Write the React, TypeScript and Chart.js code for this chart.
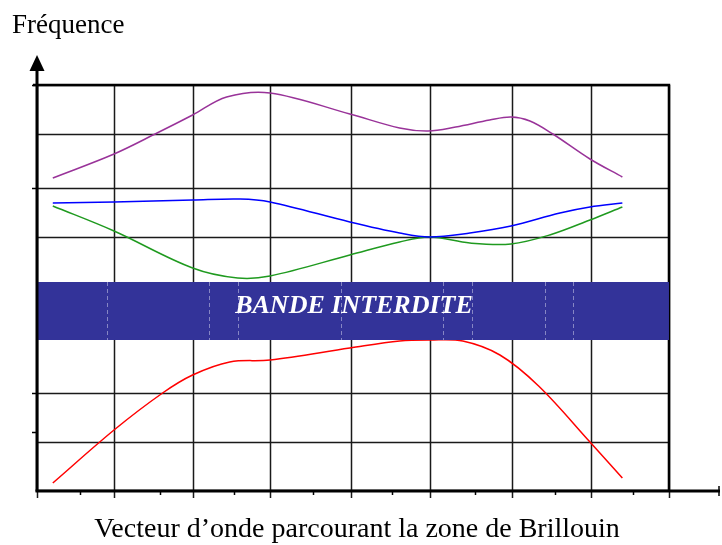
import React, { useEffect, useRef } from "react";
import { Chart, registerables } from "chart.js";

Chart.register(...registerables);

// x: wave vector (grid units), y: frequency (arbitrary units)
const purple = [
  [0.2, 31.2], [0.975, 33.6], [1.52, 35.7], [1.97, 37.5], [2.4, 39.3],
  [2.95, 39.7], [3.96, 37.6], [4.59, 36.2], [4.95, 35.9], [5.3, 36.3], [5.73, 37.0],
  [6.0, 37.3], [6.24, 36.9], [6.53, 35.6], [7.0, 33.1], [7.41, 31.3],
];
const blue = [
  [0.2, 28.7], [0.975, 28.8], [1.97, 29.0], [2.57, 29.1], [2.95, 28.8],
  [3.96, 26.8], [4.59, 25.7], [4.97, 25.3], [5.48, 25.7], [6.0, 26.4], [6.62, 27.7],
  [7.0, 28.3], [7.41, 28.7],
];
const green = [
  [0.2, 28.4], [0.975, 25.9], [1.97, 22.2], [2.54, 21.2], [2.95, 21.4],
  [3.96, 23.5], [4.59, 24.8], [4.97, 25.3], [5.48, 24.7], [6.0, 24.6], [6.49, 25.5],
  [7.0, 27.0], [7.41, 28.3],
];
const red = [
  [0.2, 0.7], [0.975, 6.0], [1.59, 9.7], [1.97, 11.5], [2.44, 12.8],
  [2.95, 13.0], [3.96, 14.2], [4.59, 14.9], [4.97, 15.0], [5.39, 14.9], [5.86, 13.5],
  [6.35, 10.4], [7.0, 4.8], [7.41, 1.2],
];

const xGrid = [0, 0.975, 1.97, 2.95, 3.98, 4.97, 6.01, 7.01, 8.0];
const yGrid = [0, 4.8, 9.7, 25.3, 30.25, 35.6, 40.5];
const yTicks = [40.5, 30.25, 9.7, 5.8];
const xMinorTicks = [0.54, 1.56, 2.5, 3.5, 4.5, 5.54, 6.56, 7.54];
const band = [15.0, 20.8];
const bandDashes = [0.886, 2.18, 2.54, 3.85, 5.14, 5.51, 6.43, 6.78];
const xMax = 8.646;
const yMax = 43.5;

const yLabel = "Fréquence";
const xLabel = "Vecteur d\u2019onde parcourant la zone de Brillouin";
const bandLabel = "BANDE INTERDITE";

const toPts = (a: number[][]) => a.map(([x, y]) => ({ x, y }));

export default function App() {
  const ref = useRef<HTMLCanvasElement>(null);
  useEffect(() => {
    if (!ref.current) return;
    const gridPlugin = {
      id: "grid",
      beforeDatasetsDraw(chart: any) {
        const { ctx, scales } = chart;
        const xs = scales.x, ys = scales.y;
        const gx0 = xs.getPixelForValue(0), gx1 = xs.getPixelForValue(8.0);
        const gy0 = ys.getPixelForValue(0), gyTop = ys.getPixelForValue(40.5);
        ctx.save();
        ctx.strokeStyle = "#1a1a1a";
        ctx.lineWidth = 1.5;
        for (const v of yGrid) {
          const y = Math.round(ys.getPixelForValue(v)) + 0.5;
          ctx.beginPath(); ctx.moveTo(gx0, y); ctx.lineTo(gx1, y); ctx.stroke();
        }
        for (const v of xGrid) {
          const x = Math.round(xs.getPixelForValue(v)) + 0.5;
          ctx.beginPath(); ctx.moveTo(x, gyTop); ctx.lineTo(x, gy0 + 8); ctx.stroke();
        }
        ctx.lineWidth = 2.5;
        ctx.strokeStyle = "#000";
        ctx.beginPath(); ctx.moveTo(gx0 - 4, gyTop); ctx.lineTo(gx1, gyTop); ctx.lineTo(gx1, gy0); ctx.stroke();
        ctx.restore();
      },
      afterDatasetsDraw(chart: any) {
        const { ctx, scales } = chart;
        const xs = scales.x, ys = scales.y;
        const gx0 = xs.getPixelForValue(0), gx1 = xs.getPixelForValue(8.0);
        const by0 = ys.getPixelForValue(band[1]), by1 = ys.getPixelForValue(band[0]);
        ctx.save();
        ctx.fillStyle = "#333399";
        ctx.fillRect(gx0, by0, gx1 - gx0, by1 - by0);
        ctx.strokeStyle = "rgba(190,190,225,0.6)";
        ctx.lineWidth = 1;
        ctx.setLineDash([4, 3]);
        for (const v of bandDashes) {
          const x = Math.round(xs.getPixelForValue(v)) + 0.5;
          ctx.beginPath(); ctx.moveTo(x, by0); ctx.lineTo(x, by1); ctx.stroke();
        }
        ctx.setLineDash([]);
        ctx.fillStyle = "#fff";
        ctx.font = "italic bold 26px 'Liberation Serif', 'Times New Roman', serif";
        ctx.textAlign = "center";
        ctx.textBaseline = "alphabetic";
        ctx.fillText(bandLabel, 354, by0 + 31);

        const ax = xs.getPixelForValue(0);
        const ay = ys.getPixelForValue(0);
        const topY = ys.getPixelForValue(yMax);
        ctx.strokeStyle = "#000";
        ctx.lineWidth = 3;
        ctx.beginPath(); ctx.moveTo(ax, ay + 1.5); ctx.lineTo(ax, topY + 14); ctx.stroke();
        ctx.beginPath(); ctx.moveTo(ax - 1.5, ay + 1); ctx.lineTo(xs.getPixelForValue(xMax), ay + 1); ctx.stroke();
        ctx.lineWidth = 1.5;
        const xr = xs.getPixelForValue(xMax) - 1;
        ctx.beginPath(); ctx.moveTo(xr, ay - 4); ctx.lineTo(xr, ay + 6); ctx.stroke();
        ctx.fillStyle = "#000";
        ctx.beginPath();
        ctx.moveTo(ax, topY);
        ctx.lineTo(ax - 7.5, topY + 16);
        ctx.lineTo(ax + 7.5, topY + 16);
        ctx.closePath();
        ctx.fill();
        ctx.lineWidth = 1.5;
        for (const v of yTicks) {
          const y = Math.round(ys.getPixelForValue(v)) + 0.5;
          ctx.beginPath(); ctx.moveTo(ax - 5, y); ctx.lineTo(ax, y); ctx.stroke();
        }
        for (const v of xMinorTicks) {
          const x = Math.round(xs.getPixelForValue(v)) + 0.5;
          ctx.beginPath(); ctx.moveTo(x, ay + 1); ctx.lineTo(x, ay + 5); ctx.stroke();
        }
        ctx.fillStyle = "#000";
        ctx.font = "27px 'Liberation Serif', 'Times New Roman', serif";
        ctx.textAlign = "left";
        ctx.fillText(yLabel, 12, 33);
        ctx.font = "28px 'Liberation Serif', 'Times New Roman', serif";
        ctx.textAlign = "center";
        ctx.fillText(xLabel, 357, 537);
        ctx.restore();
      },
    };

    const mk = (d: number[][], c: string) => ({
      data: toPts(d),
      borderColor: c,
      borderWidth: 1.5,
      pointRadius: 0,
      fill: false,
      tension: 0.35,
    });

    const chart = new Chart(ref.current, {
      type: "line",
      data: {
        datasets: [
          mk(purple, "#993399"),
          mk(blue, "#0000ff"),
          mk(green, "#1f9a1f"),
          mk(red, "#ff0000"),
        ],
      },
      options: {
        animation: false,
        responsive: false,
        maintainAspectRatio: false,
        layout: { padding: { left: 37, right: 2, top: 55, bottom: 55 } },
        plugins: { legend: { display: false }, tooltip: { enabled: false }, title: { display: false } },
        scales: {
          x: { type: "linear", min: 0, max: xMax, display: false },
          y: { type: "linear", min: 0, max: yMax, display: false },
        },
      },
      plugins: [gridPlugin],
    });
    return () => chart.destroy();
  }, []);

  return (
    <div style={{ position: "absolute", left: 0, top: 0, width: 722, height: 545, background: "#fff" }}>
      <canvas ref={ref} width={722} height={545} />
    </div>
  );
}
